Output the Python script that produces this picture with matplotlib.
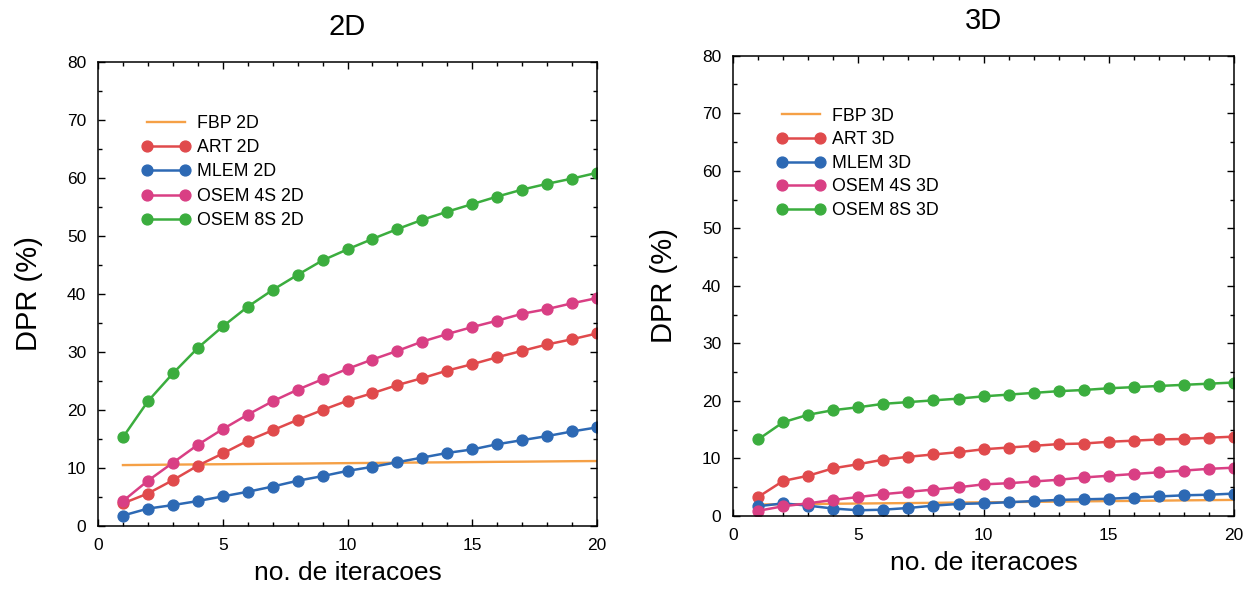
import matplotlib
matplotlib.use("Agg")
import matplotlib.pyplot as plt
from matplotlib.ticker import MultipleLocator

plt.rcParams['font.family'] = ['Liberation Sans', 'DejaVu Sans']

iterations = list(range(1, 21))

# 2D panel
fbp_2d = [10.5, 10.54, 10.58, 10.62, 10.65, 10.69, 10.73, 10.76, 10.8, 10.84,
          10.87, 10.91, 10.95, 10.98, 11.02, 11.06, 11.09, 11.13, 11.17, 11.2]
art_2d = [3.9, 5.6, 7.9, 10.4, 12.5, 14.7, 16.5, 18.3, 20.0, 21.6,
          22.9, 24.3, 25.5, 26.8, 27.9, 29.1, 30.2, 31.3, 32.2, 33.2]
mlem_2d = [1.8, 3.0, 3.6, 4.3, 5.1, 5.9, 6.8, 7.8, 8.6, 9.5,
           10.2, 11.0, 11.8, 12.6, 13.2, 14.1, 14.8, 15.5, 16.3, 17.0]
osem4_2d = [4.3, 7.8, 10.9, 14.0, 16.7, 19.2, 21.5, 23.5, 25.3, 27.1,
            28.7, 30.2, 31.8, 33.1, 34.3, 35.4, 36.6, 37.4, 38.4, 39.3]
osem8_2d = [15.3, 21.5, 26.3, 30.7, 34.4, 37.8, 40.7, 43.3, 45.8, 47.7,
            49.5, 51.2, 52.8, 54.2, 55.5, 56.8, 58.0, 59.0, 59.9, 60.9]

# 3D panel
fbp_3d = [2.0, 2.04, 2.08, 2.13, 2.17, 2.21, 2.25, 2.29, 2.34, 2.38,
          2.42, 2.46, 2.51, 2.55, 2.59, 2.63, 2.67, 2.72, 2.76, 2.8]
art_3d = [3.3, 6.1, 7.0, 8.3, 9.0, 9.8, 10.3, 10.7, 11.1, 11.6,
          11.9, 12.2, 12.5, 12.6, 12.9, 13.1, 13.3, 13.4, 13.6, 13.8]
mlem_3d = [1.7, 2.2, 1.8, 1.3, 1.0, 1.1, 1.4, 1.8, 2.1, 2.2,
           2.4, 2.6, 2.8, 2.9, 3.0, 3.2, 3.4, 3.6, 3.7, 3.9]
osem4_3d = [0.9, 1.7, 2.2, 2.8, 3.3, 3.8, 4.2, 4.6, 5.0, 5.5,
            5.7, 6.0, 6.3, 6.7, 7.0, 7.3, 7.6, 7.9, 8.2, 8.4]
osem8_3d = [13.3, 16.3, 17.6, 18.4, 18.9, 19.5, 19.8, 20.1, 20.4, 20.8,
            21.1, 21.4, 21.7, 21.9, 22.2, 22.4, 22.6, 22.8, 23.0, 23.2]

labels_2d = ["FBP 2D", "ART 2D", "MLEM 2D", "OSEM 4S 2D", "OSEM 8S 2D"]
labels_3d = ["FBP 3D", "ART 3D", "MLEM 3D", "OSEM 4S 3D", "OSEM 8S 3D"]
colors = ["#f5a046", "#e04a4c", "#2d69b4", "#d93f84", "#3bad3e"]

fig = plt.figure(figsize=(12.58, 5.90), dpi=100)
ax1 = fig.add_axes([0.0779, 0.1085, 0.3967, 0.7864])
ax2 = fig.add_axes([0.5827, 0.1254, 0.3983, 0.7802])


def draw(ax, series, labels, title, legend_anchor, spacing):
    fbp = series[0]
    ax.plot(iterations, fbp, color=colors[0], lw=1.7, label=labels[0])
    for s, lab, c in zip(series[1:], labels[1:], colors[1:]):
        ax.plot(iterations, s, color=c, lw=1.8, marker='o', markersize=7.8,
                label=lab)
    ax.set_xlim(0, 20)
    ax.set_ylim(0, 80)
    ax.xaxis.set_major_locator(MultipleLocator(5))
    ax.xaxis.set_minor_locator(MultipleLocator(1))
    ax.yaxis.set_major_locator(MultipleLocator(10))
    ax.yaxis.set_minor_locator(MultipleLocator(5))
    ax.tick_params(which='both', direction='in', top=True, right=True,
                   labelsize=12.5, pad=8.5, width=1)
    ax.tick_params(which='major', length=5)
    ax.tick_params(which='minor', length=3)
    for sp in ax.spines.values():
        sp.set_linewidth(1.1)
    ax.set_title(title, fontsize=21, pad=19.5)
    ax.set_xlabel("no. de iteracoes", fontsize=19, labelpad=6)
    ax.set_ylabel("DPR (%)", fontsize=21, labelpad=17)
    ax.legend(loc='upper left', bbox_to_anchor=legend_anchor, frameon=False,
              fontsize=12.8, handlelength=2.75, handletextpad=0.38,
              labelspacing=spacing, borderpad=0, borderaxespad=0, numpoints=2)


draw(ax1, [fbp_2d, art_2d, mlem_2d, osem4_2d, osem8_2d], labels_2d, "2D",
     (0.0876, 0.886), 0.41)
draw(ax2, [fbp_3d, art_3d, mlem_3d, osem4_3d, osem8_3d], labels_3d, "3D",
     (0.0866, 0.887), 0.37)

fig.savefig("out.png", dpi=100)
